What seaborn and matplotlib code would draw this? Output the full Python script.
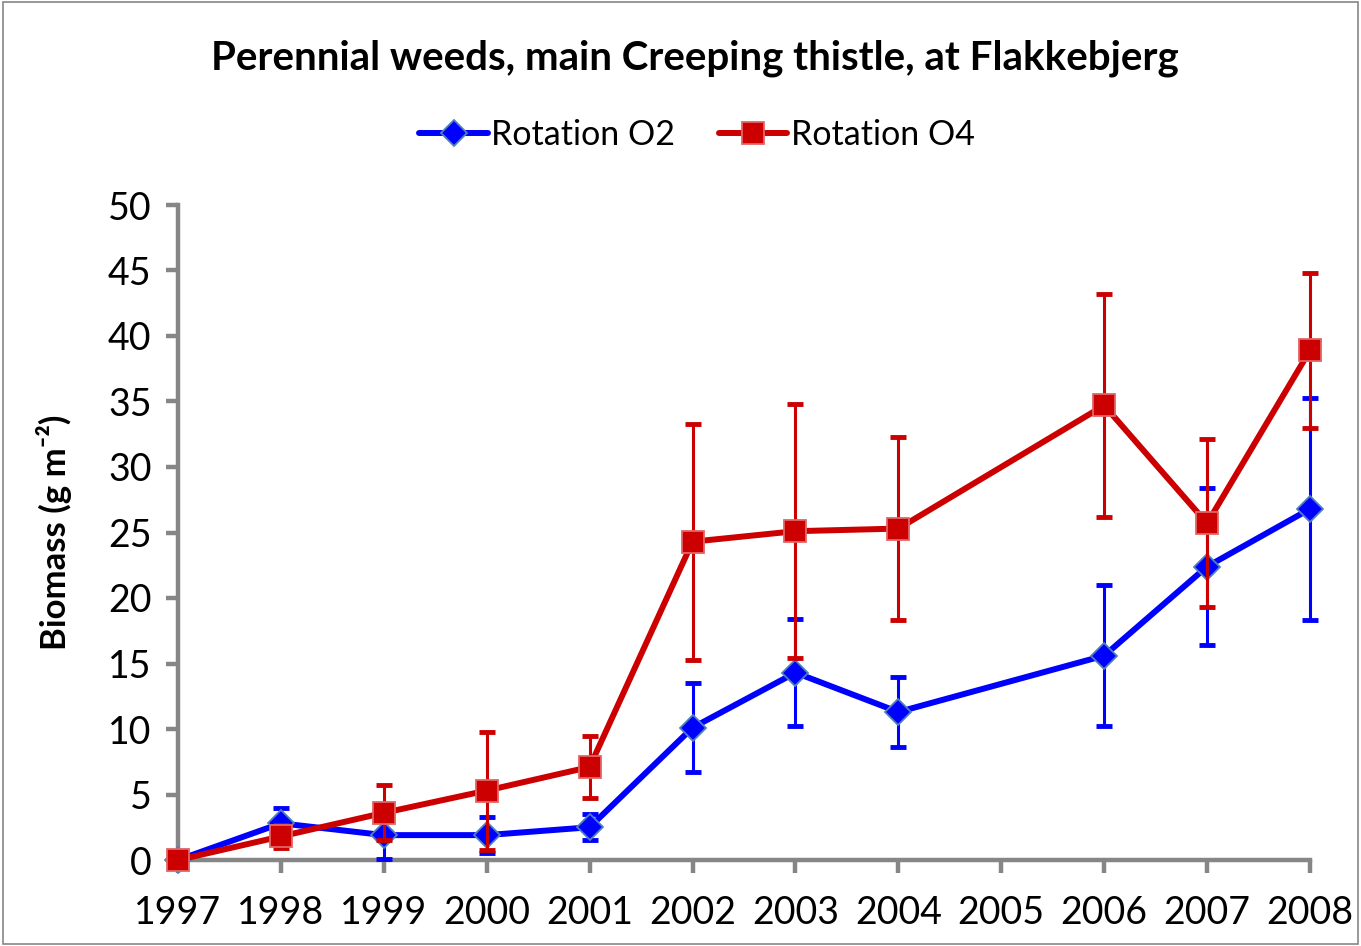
import matplotlib
matplotlib.use("Agg")
import matplotlib.pyplot as plt
import seaborn as sns
import pandas as pd
from matplotlib.patches import Rectangle

years_o2 = [1997, 1998, 1999, 2000, 2001, 2002, 2003, 2004, 2006, 2007, 2008]
biomass_o2 = [0.0, 2.8, 1.9, 1.9, 2.5, 10.1, 14.3, 11.3, 15.6, 22.4, 26.8]
err_o2 = [0.0, 1.2, 1.8, 1.4, 1.0, 3.4, 4.1, 2.7, 5.4, 6.0, 8.5]

years_o4 = [1997, 1998, 1999, 2000, 2001, 2002, 2003, 2004, 2006, 2007, 2008]
biomass_o4 = [0.0, 1.8, 3.6, 5.3, 7.1, 24.3, 25.1, 25.3, 34.7, 25.7, 38.9]
err_o4 = [0.0, 0.9, 2.1, 4.5, 2.4, 9.0, 9.7, 7.0, 8.5, 6.4, 5.9]

tick_years = list(range(1997, 2009))
series_names = ["Rotation O2", "Rotation O4"]

sns.set_style("white")
plt.rcParams['font.family'] = ['Lato', 'DejaVu Sans']
plt.rcParams['text.color'] = 'black'
plt.rcParams['axes.labelcolor'] = 'black'

df = pd.concat([
    pd.DataFrame({"year": years_o2, "biomass": biomass_o2, "err": err_o2, "series": series_names[0]}),
    pd.DataFrame({"year": years_o4, "biomass": biomass_o4, "err": err_o4, "series": series_names[1]}),
])

fig = plt.figure(figsize=(13.61, 9.46), dpi=100)
ax = fig.add_axes([178/1361, 1 - 860/946, (1310-178)/1361, (860-205)/946])

styles = {
    series_names[0]: dict(color="#0000FF", marker="D", ms=13, mec="#4F81BD", z=3),
    series_names[1]: dict(color="#CC0000", marker="s", ms=16.5, mec="#E06666", z=4),
}

for name in series_names:
    st = styles[name]
    sub = df[df["series"] == name]
    ax.errorbar(sub["year"], sub["biomass"], yerr=sub["err"], fmt="none",
                ecolor=st["color"], elinewidth=2.2, capsize=6, capthick=3.5,
                zorder=st["z"])
    sns.lineplot(data=sub, x="year", y="biomass", ax=ax, color=st["color"],
                 linewidth=4.3, marker=st["marker"], markersize=st["ms"],
                 markeredgecolor=st["mec"], markeredgewidth=1.3,
                 label=name, zorder=st["z"] + 0.5, errorbar=None)

ax.set_xlim(1997, 2008)
ax.set_ylim(0, 50)
ax.set_xticks(tick_years)
ax.set_xticklabels([str(y) for y in tick_years])
ax.set_yticks(range(0, 51, 5))
for s in ["top", "right"]:
    ax.spines[s].set_visible(False)
for s in ["left", "bottom"]:
    ax.spines[s].set_color("#868686")
    ax.spines[s].set_linewidth(3.2)
ax.tick_params(axis="both", direction="out", length=9, width=3.2, color="#868686",
               labelcolor="black", labelsize=27, bottom=True, left=True)
ax.tick_params(axis="y", pad=10)
ax.tick_params(axis="x", pad=16)
ax.set_xlabel("")
ax.set_ylabel("Biomass (g m\u207b\u00b2)", fontsize=25, fontweight="bold",
              labelpad=26, color="black")
for line in ax.lines:
    line.set_clip_on(False)
for coll in ax.collections:
    coll.set_clip_on(False)

handles, labels = ax.get_legend_handles_labels()
if ax.get_legend():
    ax.get_legend().remove()
fig.legend(handles, labels, loc="center", bbox_to_anchor=(697/1361, 1 - 135/946),
           ncol=2, frameon=False, fontsize=24.5, handlelength=2.0,
           handletextpad=0.1, columnspacing=1.3, labelcolor="black")

fig.text(695/1361, 1 - 58/946, "Perennial weeds, main Creeping thistle, at Flakkebjerg",
         ha="center", va="center", fontsize=29, fontweight="bold", color="black")

fig.patches.append(Rectangle((0.002, 0.002), 0.996, 0.996, transform=fig.transFigure,
                             fill=False, edgecolor="#868686", linewidth=1.2))

fig.savefig("out.png", dpi=100)
